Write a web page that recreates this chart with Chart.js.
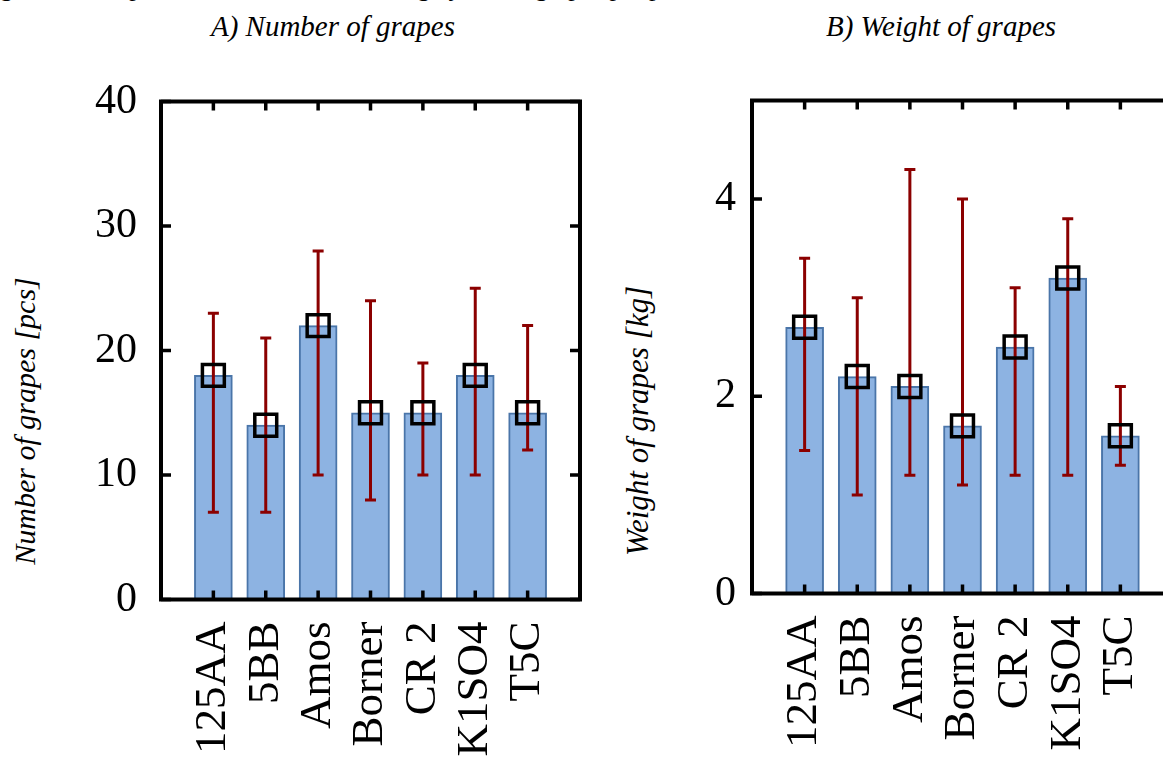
<!DOCTYPE html>
<html>
<head>
<meta charset="utf-8">
<script src="https://cdn.jsdelivr.net/npm/chart.js@4.4.0/dist/chart.umd.min.js"></script>
<style>
html, body { margin: 0; padding: 0; background: #fff; overflow: hidden; width: 1163px; height: 758px; }
body { position: relative; font-family: "Liberation Serif", "Times New Roman", serif; color: #000; }
.pie { position: absolute; left: 0; top: -27px; font-size: 26px; white-space: nowrap; }
.titulo { position: absolute; top: 10px; font-style: italic; font-size: 29px; white-space: nowrap; transform: translateX(-50%); }
.eje { position: absolute; font-style: italic; font-size: 30px; white-space: nowrap; transform: translate(-50%, -50%) rotate(-90deg); }
canvas { position: absolute; top: 0; }
</style>
</head>
<body>
<div class="pie">gure 4. Comparison of rootstocks: average yield of grapes per plant</div>
<div class="titulo" style="left:333px">A) Number of grapes</div>
<div class="titulo" style="left:941px">B) Weight of grapes</div>
<div class="eje" style="left:25px; top:421px">Number of grapes [pcs]</div>
<div class="eje" style="left:638px; top:421px; font-size:31px">Weight of grapes [kg]</div>
<canvas id="grafico-numero" width="600" height="758" style="left:0; width:600px; height:758px"></canvas>
<canvas id="grafico-peso" width="593" height="758" style="left:600px; width:593px; height:758px"></canvas>
<script>
// Datos
const categorias = ['125AA', '5BB', 'Amos', 'Borner', 'CR 2', 'K1SO4', 'T5C'];

const numeroMedia = [18, 14, 22, 15, 15, 18, 15];
const numeroMin = [7, 7, 10, 8, 10, 10, 12];
const numeroMax = [23, 21, 28, 24, 19, 25, 22];

const pesoMedia = [2.7, 2.2, 2.1, 1.7, 2.5, 3.2, 1.6];
const pesoMin = [1.45, 1.0, 1.2, 1.1, 1.2, 1.2, 1.3];
const pesoMax = [3.4, 3.0, 4.3, 4.0, 3.1, 3.8, 2.1];

const ticksNumero = [0, 10, 20, 30, 40];
const ticksPeso = [0, 2, 4];

// Una categoria vacia a cada lado, como en el original
const etiquetas = [''].concat(categorias, ['']);
function rellenar(arr) {
    return [null].concat(arr, [null]);
}

// Plugin: barras de error, marco y marcas hacia dentro
function crearPluginMarco(mins, maxs) {
    return {
        id: 'marco',
        afterDatasetDraw(chart, args) {
            if (args.index !== 0) return;
            const x = chart.scales.x;
            const y = chart.scales.y;
            const ctx = chart.ctx;
            ctx.save();
            ctx.strokeStyle = '#8b0000';
            ctx.lineWidth = 3;
            mins.forEach((v, i) => {
                const px = x.getPixelForValue(i + 1);
                const y1 = y.getPixelForValue(v);
                const y2 = y.getPixelForValue(maxs[i]);
                ctx.beginPath();
                ctx.moveTo(px, y1); ctx.lineTo(px, y2);
                ctx.moveTo(px - 5.5, y1); ctx.lineTo(px + 5.5, y1);
                ctx.moveTo(px - 5.5, y2); ctx.lineTo(px + 5.5, y2);
                ctx.stroke();
            });
            ctx.restore();
        },
        afterDraw(chart) {
            const a = chart.chartArea;
            const x = chart.scales.x;
            const y = chart.scales.y;
            const ctx = chart.ctx;
            ctx.save();
            ctx.strokeStyle = '#000';
            ctx.lineWidth = 3.5;
            ctx.beginPath();
            for (let i = 1; i <= categorias.length; i++) {
                const px = x.getPixelForValue(i);
                ctx.moveTo(px, a.bottom); ctx.lineTo(px, a.bottom - 9);
                ctx.moveTo(px, a.top); ctx.lineTo(px, a.top + 9);
            }
            y.ticks.forEach(t => {
                const py = y.getPixelForValue(t.value);
                ctx.moveTo(a.left, py); ctx.lineTo(a.left + 10, py);
                ctx.moveTo(a.right, py); ctx.lineTo(a.right - 10, py);
            });
            ctx.stroke();
            ctx.lineWidth = 4;
            ctx.strokeRect(a.left, a.top, a.right - a.left, a.bottom - a.top);
            ctx.restore();
        }
    };
}

function crearGrafico(id, medias, mins, maxs, ticksY, cfg) {
    const ctx = document.getElementById(id);
    return new Chart(ctx, {
        type: 'bar',
        data: {
            labels: etiquetas,
            datasets: [
                {
                    type: 'bar',
                    data: rellenar(medias),
                    backgroundColor: '#8db3e2',
                    borderColor: '#4a75a9',
                    borderWidth: 2,
                    borderSkipped: 'bottom',
                    barThickness: 38,
                    order: 2
                },
                {
                    type: 'line',
                    data: rellenar(medias),
                    showLine: false,
                    pointStyle: 'rect',
                    pointRadius: 15.5,
                    pointHoverRadius: 15.5,
                    borderColor: '#000',
                    backgroundColor: 'rgba(0,0,0,0)',
                    pointBorderWidth: 3.5,
                    order: 1
                }
            ]
        },
        options: {
            responsive: false,
            animation: false,
            devicePixelRatio: 1,
            layout: { padding: { top: cfg.top, right: 20, bottom: 0, left: 0 } },
            plugins: {
                legend: { display: false },
                tooltip: { enabled: false },
                title: { display: false }
            },
            scales: {
                x: {
                    type: 'category',
                    offset: false,
                    grid: { display: false, drawTicks: false },
                    border: { display: false },
                    ticks: {
                        autoSkip: false,
                        maxRotation: 90,
                        minRotation: 90,
                        padding: 22,
                        color: '#000',
                        font: { family: 'Liberation Serif', size: 45 }
                    },
                    afterFit(scale) {
                        scale.height = cfg.alturaX;
                        // sin relleno extra por las etiquetas giradas
                        scale.paddingLeft = 0;
                        scale.paddingRight = 0;
                    }
                },
                y: {
                    min: 0,
                    max: cfg.maxY,
                    grid: { display: false, drawTicks: false },
                    border: { display: false },
                    ticks: {
                        stepSize: ticksY[1] - ticksY[0],
                        padding: cfg.padY,
                        color: '#000',
                        font: { family: 'Liberation Serif', size: 42 }
                    },
                    afterBuildTicks(scale) {
                        scale.ticks = ticksY.map(v => ({ value: v }));
                    },
                    afterFit(scale) { scale.width = cfg.anchoY; }
                }
            }
        },
        plugins: [crearPluginMarco(mins, maxs)]
    });
}

crearGrafico('grafico-numero', numeroMedia, numeroMin, numeroMax, ticksNumero,
    { top: 101.5, alturaX: 158.5, anchoY: 161, maxY: 40, padY: 24 });
crearGrafico('grafico-peso', pesoMedia, pesoMin, pesoMax, ticksPeso,
    { top: 100.5, alturaX: 164.5, anchoY: 152, maxY: 5, padY: 16 });
</script>
</body>
</html>
